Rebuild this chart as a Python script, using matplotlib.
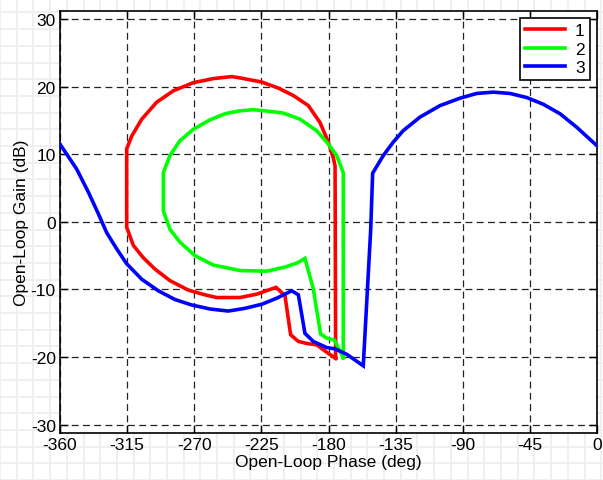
import matplotlib
matplotlib.use("Agg")
import matplotlib.pyplot as plt
from matplotlib.lines import Line2D

plt.rcParams['font.family'] = ['Liberation Sans', 'DejaVu Sans']

# Nichols-chart traces: open-loop phase (deg) and gain (dB)
phase_1 = [-175.2, -175.6, -176.8, -180.1, -185.7, -193.5, -203.6, -213.7, -224.8,
           -239.3, -244.9, -257.2, -270.6, -284.0, -295.2, -305.2, -311.9, -315.3,
           -315.3, -310.8, -304.2, -296.3, -286.3, -274.0, -262.8, -255.0, -239.3,
           -228.1, -215.2, -209.2, -205.4, -200.2, -194.6, -187.9, -181.2, -175.2]
gain_1 = [-20.2, 8.3, 9.5, 11.8, 14.7, 17.2, 18.7, 19.8, 20.7,
          21.3, 21.5, 21.2, 20.6, 19.4, 17.7, 15.2, 12.7, 10.8,
          -0.8, -3.5, -5.3, -7.0, -8.7, -10.1, -10.8, -11.2, -11.2,
          -10.7, -9.7, -10.9, -16.7, -17.7, -18.0, -18.2, -19.3, -20.2]

phase_2 = [-170.1, -170.1, -174.5, -180.1, -188.0, -199.1, -210.3, -221.4, -230.4,
           -240.5, -249.4, -259.4, -270.6, -279.6, -286.3, -290.7, -290.7, -286.3,
           -279.6, -269.5, -257.2, -239.3, -221.4, -209.2, -200.2, -195.8, -190.2,
           -185.3, -181.2, -176.1, -170.1]
gain_2 = [-20.1, 7.3, 9.8, 11.5, 13.5, 15.2, 16.1, 16.4, 16.6,
          16.4, 16.0, 15.1, 13.7, 12.0, 9.8, 7.3, 1.6, -1.1,
          -3.0, -5.0, -6.4, -7.2, -7.3, -6.7, -6.0, -5.4, -9.9,
          -16.6, -17.2, -17.5, -20.1]

phase_3 = [-360.0, -348.8, -341.0, -334.3, -328.7, -322.0, -315.3, -305.2, -294.1,
           -282.9, -271.7, -259.4, -247.2, -236.0, -224.8, -214.7, -204.7, -200.2,
           -195.8, -190.2, -181.2, -175.6, -167.8, -156.7, -151.7, -150.4, -143.3,
           -136.6, -129.9, -118.7, -105.3, -91.9, -80.7, -69.5, -58.3, -47.1,
           -36.0, -24.8, -13.6, -0.2]
gain_3 = [11.5, 7.8, 4.4, 1.2, -1.6, -4.0, -6.2, -8.5, -10.2,
          -11.5, -12.3, -12.9, -13.2, -12.8, -12.2, -11.3, -10.2, -10.8,
          -16.5, -17.7, -18.6, -18.8, -19.6, -21.3, -1.1, 7.2, 9.8,
          11.8, 13.5, 15.5, 17.2, 18.3, 19.0, 19.2, 19.0, 18.4,
          17.4, 16.0, 14.0, 11.3]

series_labels = ['1', '2', '3']
series_colors = ['#ff0000', '#00ff00', '#0000ff']

x_ticks = [-360, -315, -270, -225, -180, -135, -90, -45, 0]
y_ticks = [-30, -20, -10, 0, 10, 20, 30]

W, H, DPI = 603, 481, 100
fig = plt.figure(figsize=(W / DPI, H / DPI), dpi=DPI)
fig.patch.set_facecolor('white')

# light checker-grid backdrop behind the plot
step = 16.7
x = 0.0
while x < W:
    fig.add_artist(Line2D([x / W, x / W], [0, 1], transform=fig.transFigure,
                          color='#eeeeee', lw=1.3, zorder=0))
    x += step
y = 0.0
while y < H:
    fig.add_artist(Line2D([0, 1], [y / H, y / H], transform=fig.transFigure,
                          color='#eeeeee', lw=1.3, zorder=0))
    y += step

ax = fig.add_axes([60 / W, 1 - 434 / H, (597 - 60) / W, (434 - 11.7) / H])
ax.set_facecolor('white')

for ph, g, lab, col in zip([phase_1, phase_2, phase_3], [gain_1, gain_2, gain_3],
                           series_labels, series_colors):
    ax.plot(ph, g, color=col, lw=2.6, label=lab, solid_joinstyle='miter',
            zorder=3)

ax.set_xlim(-360, 0)
ax.set_ylim(-31.25, 31.25)
ax.set_xticks(x_ticks)
ax.set_yticks(y_ticks)
ax.set_xticklabels([str(t) for t in x_ticks])
ax.set_yticklabels([str(t) for t in y_ticks])
ax.tick_params(direction='in', length=6, width=1, top=True, right=True,
               labelsize=12.5, pad=3, colors='black')
ax.grid(True, color='#222222', lw=0.9, linestyle=(0, (5.5, 3.5)))
ax.set_axisbelow(True)
for s in ax.spines.values():
    s.set_linewidth(1.2)
    s.set_color('black')

ax.set_xlabel('Open-Loop Phase (deg)', fontsize=12.5, labelpad=1)
ax.set_ylabel('Open-Loop Gain (dB)', fontsize=12.5, labelpad=1)

leg = ax.legend(loc='upper right', fontsize=12.5, frameon=True, fancybox=False,
                edgecolor='black', framealpha=1, handlelength=2.3,
                borderaxespad=0.4, labelspacing=0.2, handletextpad=0.6,
                borderpad=0.3)
leg.get_frame().set_linewidth(1.2)

fig.savefig('out.png', dpi=DPI)
